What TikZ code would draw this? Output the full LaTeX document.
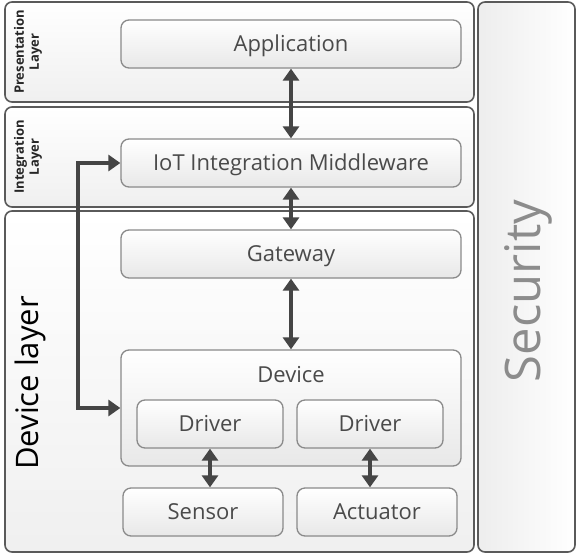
\documentclass[tikz,border=0pt]{standalone}
\usepackage{fontspec}
\setmainfont{Open Sans}
\usetikzlibrary{arrows.meta}
\definecolor{txt}{HTML}{4A4A4A}
\definecolor{edge}{HTML}{8A8A8A}
\definecolor{layeredge}{HTML}{5A5A5A}
\definecolor{arrowc}{HTML}{454545}
\begin{document}
\begin{tikzpicture}[x=1pt,y=-1pt,
  layer/.style={draw=layeredge, line width=1.6pt, rounded corners=7pt,
    top color=white, bottom color=black!6, inner sep=0pt},
  box/.style={draw=edge, line width=1.3pt, rounded corners=8pt,
    top color=white, bottom color=black!9, inner sep=0pt,
    text=txt, font=\fontsize{22}{26}\selectfont, text depth=0pt, text height=15pt},
  lbl/.style={rotate=90, text=black!85, align=center,
    font=\bfseries\fontsize{13}{15}\selectfont},
  arr/.style={draw=arrowc, line width=3.5pt, {Triangle[length=12pt,width=16pt]}-{Triangle[length=12pt,width=16pt]}}
]
\useasboundingbox (0,0) rectangle (578,555);

% layers
\node[layer, minimum width=469, minimum height=100] (pres) at (239.5,52) {};
\node[layer, minimum width=469, minimum height=100] (integ) at (239.5,157) {};
\node[layer, minimum width=469, minimum height=341] (devl) at (239.5,381.5) {};
\node[layer, left color=black!7, right color=white, minimum width=97,
  minimum height=550] (sec) at (526.5,277) {};

% layer labels
\node[lbl] (preslbl) at (28,52) {Presentation\\Layer};
\node[lbl] (integlbl) at (28,157) {Integration\\Layer};
\node[rotate=90, text=black, font=\fontsize{31}{36}\selectfont] (devlbl) at (30,383) {Device layer};
\node[rotate=90, text=black!45, font=\fontsize{49}{56}\selectfont] (seclbl) at (528,291) {Security};

% components
\node[box, minimum width=340, minimum height=48] (app) at (291,44) {Application};
\node[box, minimum width=340, minimum height=48] (mw) at (291,163) {IoT Integration Middleware};
\node[box, minimum width=340, minimum height=48] (gw) at (291,254) {Gateway};
\node[box, minimum width=340, minimum height=116] (dev) at (291,408) {};
\node[text=txt, font=\fontsize{22}{26}\selectfont, text depth=0pt, text height=15pt] (devtitle) at (291,375) {Device};
\node[box, minimum width=146, minimum height=48] (drv1) at (210,424) {Driver};
\node[box, minimum width=146, minimum height=48] (drv2) at (370,424) {Driver};
\node[box, minimum width=160, minimum height=48] (sen) at (203,512) {Sensor};
\node[box, minimum width=160, minimum height=48] (act) at (377,512) {Actuator};

% connectors
\draw[arr] (app.south) -- (mw.north);
\draw[arr] (mw.south) -- (gw.north);
\draw[arr] (gw.south) -- (dev.north);
\draw[arr] (drv1.south) -- (drv1.south |- sen.north);
\draw[arr] (drv2.south) -- (drv2.south |- act.north);
\coordinate (elb) at (78,0);
\draw[arr, rounded corners=0pt]
  (mw.west) -- (mw.west -| elb) -- (dev.west -| elb) -- (dev.west);
\end{tikzpicture}
\end{document}
